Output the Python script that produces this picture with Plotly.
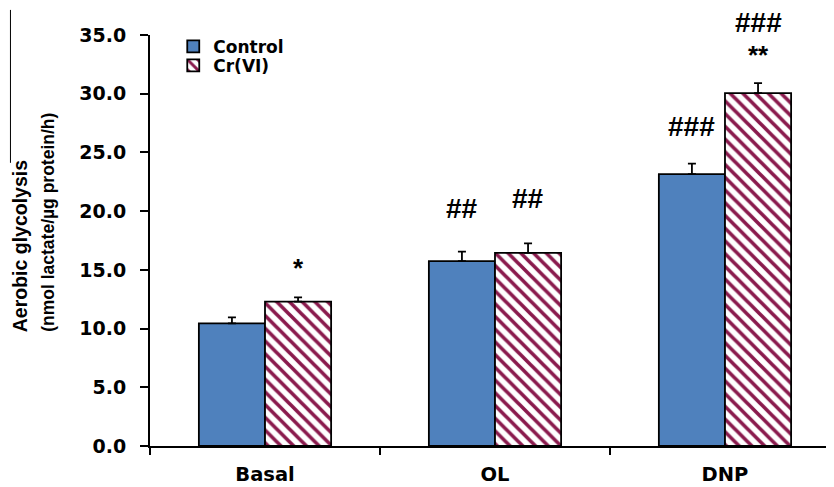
import plotly.graph_objects as go

# ---- data ----
categories = ["Basal", "OL", "DNP"]
control = [10.45, 15.75, 23.15]
control_err = [0.5, 0.8, 0.9]
cr = [12.3, 16.45, 30.05]
cr_err = [0.35, 0.8, 0.85]
y_ticks = [0, 5, 10, 15, 20, 25, 30, 35]
Y_MAX = 35

# significance marks: (category, series, text, y in data units)
sig_marks = [
    ("Basal", "cr", "*", 15.2),
    ("OL", "control", "##", 20.2),
    ("OL", "cr", "##", 21.1),
    ("DNP", "control", "###", 27.2),
    ("DNP", "cr", "**", 33.3),
    ("DNP", "cr", "###", 36.1),
]

BLUE = "#4F81BD"
CRIMSON = "#8A1A4D"

fig = go.Figure()
fig.add_trace(go.Bar(
    name="Control", x=categories, y=control, legend="legend",
    marker=dict(color=BLUE, line=dict(color="black", width=1.8)),
    error_y=dict(type="data", array=control_err, arrayminus=[0]*3, symmetric=False,
                 color="black", thickness=1.8, width=4),
))
fig.add_trace(go.Bar(
    name="Cr(VI)", x=categories, y=cr, legend="legend2",
    marker=dict(color="white", line=dict(color="black", width=1.8),
                pattern=dict(shape="\\", fgcolor=CRIMSON, bgcolor="white",
                             size=9, solidity=0.4, fgopacity=1)),
    error_y=dict(type="data", array=cr_err, arrayminus=[0]*3, symmetric=False,
                 color="black", thickness=1.8, width=4),
))

annotations = []
offset = {"control": -0.145, "cr": 0.145}
for cat, ser, txt, yv in sig_marks:
    xi = categories.index(cat) + offset[ser]
    annotations.append(dict(
        x=xi, y=yv / Y_MAX, xref="x", yref="paper", text=txt, showarrow=False,
        font=dict(family="Liberation Sans", size=28 if "#" in txt else 26,
                  color="black", weight="bold"),
        xanchor="center", yanchor="middle",
    ))

# y-axis title (two lines, rotated)
annotations.append(dict(
    x=-0.19, y=0.272, xref="paper", yref="paper",
    text="Aerobic glycolysis", textangle=-90, showarrow=False,
    xanchor="center", yanchor="bottom",
    font=dict(family="Liberation Sans", size=19.5, color="black", weight="bold"),
))
annotations.append(dict(
    x=-0.149, y=0.272, xref="paper", yref="paper",
    text="(nmol lactate/µg protein/h)", textangle=-90, showarrow=False,
    xanchor="center", yanchor="bottom",
    font=dict(family="Liberation Sans", size=17.5, color="black", weight="bold"),
))

legend_font = dict(family="DejaVu Sans", size=17, color="black", weight="bold")
fig.update_layout(
    width=826, height=479,
    margin=dict(l=142, r=0, t=27, b=41),
    paper_bgcolor="white", plot_bgcolor="white",
    barmode="group", bargap=0.425, bargroupgap=0,
    showlegend=True,
    legend=dict(x=0.034, y=0.971, xanchor="left", yanchor="middle",
                font=legend_font, bgcolor="rgba(0,0,0,0)", itemwidth=30),
    legend2=dict(x=0.034, y=0.925, xanchor="left", yanchor="middle",
                 font=legend_font, bgcolor="rgba(0,0,0,0)", itemwidth=30),
    annotations=annotations,
    shapes=[dict(type="line", xref="paper", yref="paper",
                 x0=-0.204, x1=-0.204, y0=0.689, y1=1.061,
                 line=dict(color="black", width=1))],
)
fig.update_xaxes(
    type="category", range=[-0.5, 2.474], tickson="boundaries",
    ticks="outside", ticklen=7, tickwidth=1.8, tickcolor="black",
    showline=True, linewidth=2, linecolor="black", showgrid=False,
    tickfont=dict(family="DejaVu Sans", size=19.5, color="black", weight="bold"),
    ticklabelstandoff=10, automargin=False,
)
fig.update_yaxes(
    range=[0, Y_MAX], tickvals=y_ticks, tickformat=".1f",
    ticks="outside", ticklen=8, tickwidth=1.8, tickcolor="black",
    showline=True, linewidth=2, linecolor="black", showgrid=False, zeroline=False,
    tickfont=dict(family="DejaVu Sans", size=19, color="black", weight="bold"),
    ticklabelstandoff=10, automargin=False,
)

fig.write_html("out.html")
